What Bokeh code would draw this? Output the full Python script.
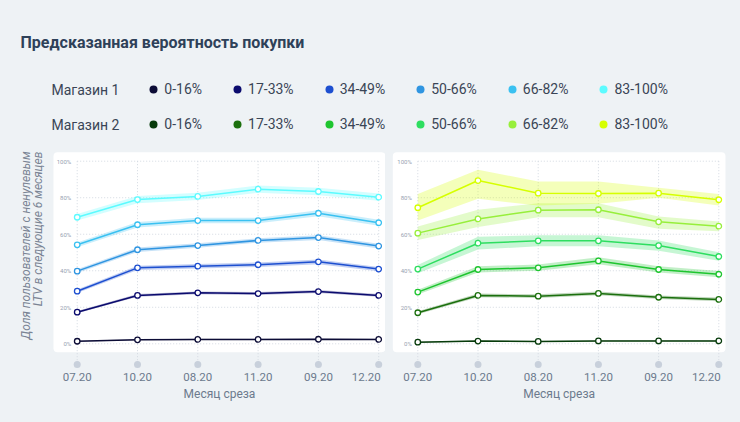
import math
from bokeh.plotting import figure
from bokeh.models import Range1d, Legend, LegendItem
from bokeh.layouts import column, row
from bokeh.embed import file_html
from bokeh.resources import INLINE
from bokeh.core.properties import value

# ---------------- data ----------------
title_text = "Предсказанная вероятность покупки"
store_names = ["Магазин 1", "Магазин 2"]
bins = ["0-16%", "17-33%", "34-49%", "50-66%", "66-82%", "83-100%"]
months = ["07.20", "10.20", "08.20", "11.20", "09.20", "12.20"]
y_ticks = [0, 20, 40, 60, 80, 100]
y_tick_labels = ["0%", "20%", "40%", "60%", "80%", "100%"]
y_title = ["Доля пользователей с ненулевым", "LTV в следующие 6 месяцев"]
x_title = "Месяц среза"

store1_colors = ["#0c0c36", "#0b0b6e", "#1d4fd0", "#2f95e1", "#3ac1f1", "#5cfbff"]
store2_colors = ["#073b0b", "#1b6f0d", "#1ec52f", "#2ede60", "#97ef3b", "#d6ff00"]

store1_values = [
    [1.4, 2.2, 2.4, 2.4, 2.5, 2.4],
    [17.3, 26.5, 27.9, 27.5, 28.6, 26.5],
    [28.8, 41.6, 42.5, 43.3, 44.9, 40.9],
    [39.8, 51.5, 53.8, 56.6, 58.2, 53.5],
    [54.2, 65.2, 67.5, 67.5, 71.5, 66.3],
    [69.3, 79.0, 80.7, 84.7, 83.4, 80.3],
]
store1_low = [
    [1.1, 1.9, 2.1, 2.1, 2.2, 2.1],
    [16.7, 25.7, 27.1, 26.7, 27.8, 25.7],
    [27.8, 40.4, 41.3, 42.1, 43.6, 39.7],
    [38.8, 50.3, 52.6, 55.4, 56.9, 52.2],
    [52.9, 63.7, 66.0, 66.0, 69.8, 64.7],
    [67.5, 77.0, 78.7, 82.7, 81.4, 78.3],
]
store1_high = [
    [1.7, 2.5, 2.7, 2.7, 2.8, 2.7],
    [17.9, 27.3, 28.7, 28.3, 29.4, 27.3],
    [29.8, 42.8, 43.7, 44.5, 46.2, 42.1],
    [40.8, 52.7, 55.0, 57.8, 59.5, 54.8],
    [55.5, 66.7, 69.0, 69.0, 73.2, 67.9],
    [71.1, 81.0, 82.7, 86.7, 85.4, 82.3],
]

store2_values = [
    [0.9, 1.5, 1.3, 1.6, 1.6, 1.6],
    [17.0, 26.5, 26.1, 27.6, 25.5, 24.3],
    [28.3, 40.7, 41.6, 45.4, 40.7, 38.1],
    [40.9, 55.1, 56.4, 56.4, 53.8, 47.8],
    [60.6, 68.4, 73.2, 73.4, 66.8, 64.4],
    [74.5, 89.4, 82.5, 82.3, 82.5, 78.9],
]
store2_low = [
    [0.6, 1.2, 1.0, 1.3, 1.3, 1.3],
    [16.2, 25.5, 25.1, 26.6, 24.5, 23.3],
    [27.0, 39.1, 40.0, 43.6, 39.1, 36.5],
    [38.6, 51.6, 53.4, 53.4, 51.0, 45.5],
    [56.8, 63.9, 69.3, 69.3, 63.0, 61.7],
    [67.5, 79.4, 75.7, 76.7, 80.0, 75.7],
]
store2_high = [
    [1.2, 1.8, 1.6, 1.9, 1.9, 1.9],
    [17.8, 27.5, 27.1, 28.6, 26.5, 25.3],
    [29.6, 42.5, 43.4, 47.4, 42.5, 39.9],
    [43.2, 58.6, 59.4, 59.4, 56.6, 50.1],
    [64.2, 73.4, 77.0, 77.0, 69.7, 67.0],
    [82.1, 95.3, 88.9, 88.9, 85.4, 82.1],
]

# ---------------- style / layout ----------------
BG = "#eef2f5"
FONT = "Roboto"
GRID = "#d3d9e1"
DOT = "#c8d0db"
AXIS_TXT = "#6c7a8d"
HEAD_TXT = "#3a4556"

W, H = 740, 422
HEADER_H = 146
ROW_H = H - HEADER_H

# vertical mapping (page pixels) for the plot rows
ZERO_PX = 343.3
PX_PER_PCT = 1.826


def y_of(px):
    return (ZERO_PX - px) / PX_PER_PCT


Y_TOP = y_of(HEADER_H)
Y_BOTTOM = y_of(H)
PANEL_TOP = y_of(151.7)
PANEL_BOTTOM = y_of(351.7)
DOT_Y = y_of(364)
XLABEL_Y = y_of(376)
XTITLE_Y = y_of(393)

idx = list(range(len(months)))

# ---------------- header ----------------
header = figure(frame_width=W, frame_height=HEADER_H, x_range=Range1d(0, W), y_range=Range1d(HEADER_H, 0),
                x_axis_location=None, y_axis_location=None, output_backend="svg",
                toolbar_location=None, min_border=0, outline_line_color=None,
                background_fill_color=BG, border_fill_color=BG)
header.grid.visible = False
header.text(x=[20], y=[42], text=[title_text], text_font=value(FONT), text_font_style="bold",
            text_font_size="16px", text_color="#2e4159", text_align="left", text_baseline="middle")
header.text(x=[51, 51], y=[89, 124.3], text=store_names, text_font=value(FONT),
            text_font_size="14px", text_color=HEAD_TXT, text_align="left", text_baseline="middle")

for colors, vy in ((store1_colors, 47), (store2_colors, 11.7)):
    items = []
    for lab, c in zip(bins, colors):
        # legend-only renderer, its single point lies outside the visible range
        r = header.scatter(x=[-100], y=[-100], size=8, fill_color=c, line_color=None)
        items.append(LegendItem(label=lab, renderers=[r]))
    lg = Legend(items=items, orientation="horizontal", location=(143.3, vy),
                glyph_width=20, glyph_height=20, label_height=20, label_width=10,
                label_standoff=1, spacing=25, padding=0, margin=0,
                border_line_color=None, background_fill_alpha=0,
                label_text_font=FONT, label_text_font_size="14px", label_text_color=HEAD_TXT)
    header.add_layout(lg)


def make_panel(values, lows, highs, colors, frame_l, frame_r, panel_l, panel_r, cat0, step, with_ytitle):
    def x_of(px):
        return (px - cat0) / step

    x_start, x_end = x_of(frame_l), x_of(frame_r)
    p = figure(frame_width=int(frame_r - frame_l), frame_height=ROW_H,
               x_range=Range1d(x_start, x_end), y_range=Range1d(Y_BOTTOM, Y_TOP),
               x_axis_location=None, y_axis_location=None, output_backend="svg",
               toolbar_location=None, min_border=0, outline_line_color=None,
               background_fill_color=BG, border_fill_color=BG)
    p.grid.visible = False
    # white panel
    p.quad(left=[x_of(panel_l)], right=[x_of(panel_r)], top=[PANEL_TOP], bottom=[PANEL_BOTTOM],
           fill_color="white", line_color=None, border_radius=4)
    n = len(months)
    # grid
    p.segment(x0=idx, y0=[y_ticks[-1]] * n, x1=idx, y1=[DOT_Y] * n,
              line_color=GRID, line_width=1, line_dash="1 2")
    p.segment(x0=[idx[0]] * len(y_ticks), y0=y_ticks, x1=[idx[-1]] * len(y_ticks), y1=y_ticks,
              line_color=GRID, line_width=1, line_dash="1 2")
    p.scatter(x=idx, y=[DOT_Y] * n, size=7, fill_color=DOT, line_color=None)
    # y tick labels inside the panel
    p.text(x=[x_of(cat0 - 6)] * len(y_ticks), y=y_ticks, text=y_tick_labels, text_font=value(FONT),
           text_font_size="6px", text_color="#98a2b1", text_align="right", text_baseline="middle")
    # x labels
    p.text(x=idx[:-1], y=[XLABEL_Y] * (n - 1), text=months[:-1], text_font=value(FONT),
           text_font_size="11.5px", text_color=AXIS_TXT, text_align="center", text_baseline="middle")
    p.text(x=[idx[-1] + 2 / step], y=[XLABEL_Y], text=months[-1:], text_font=value(FONT),
           text_font_size="11.5px", text_color=AXIS_TXT, text_align="right", text_baseline="middle")
    p.text(x=[(x_of(panel_l) + x_of(panel_r)) / 2], y=[XTITLE_Y], text=[x_title], text_font=value(FONT),
           text_font_size="12px", text_color=AXIS_TXT, text_align="center", text_baseline="middle")
    # bands, lines, markers
    for lo, hi, c in zip(lows, highs, colors):
        p.varea(x=idx, y1=lo, y2=hi, fill_color=c, fill_alpha=0.27)
    for v, c in zip(values, colors):
        p.line(x=idx, y=v, line_color=c, line_width=1.5)
    for v, c in zip(values, colors):
        p.scatter(x=idx, y=v, size=5.5, fill_color="white", line_color=c, line_width=1.3)
    if with_ytitle:
        p.text(x=[x_of(25), x_of(37.5)], y=[y_of(245), y_of(228.5)], text=y_title,
               angle=math.pi / 2, text_font=value(FONT), text_font_style="italic",
               text_font_size="12px", text_color="#7a8494", text_align="center",
               text_baseline="middle")
    return p


left = make_panel(store1_values, store1_low, store1_high, store1_colors,
                  0, 385, 53, 385, 76.7, 60.3, True)
right = make_panel(store2_values, store2_low, store2_high, store2_colors,
                   385, 740, 392.3, 725, 417.3, 60.2, False)

layout = column(header, row(left, right))

html = file_html(layout, INLINE, title="chart")
pos = html.rfind("<body>")
if pos >= 0:
    html = html[:pos] + '<body style="background-color:#eef2f5;">' + html[pos + len("<body>"):]
open("out.html", "w").write(html)
